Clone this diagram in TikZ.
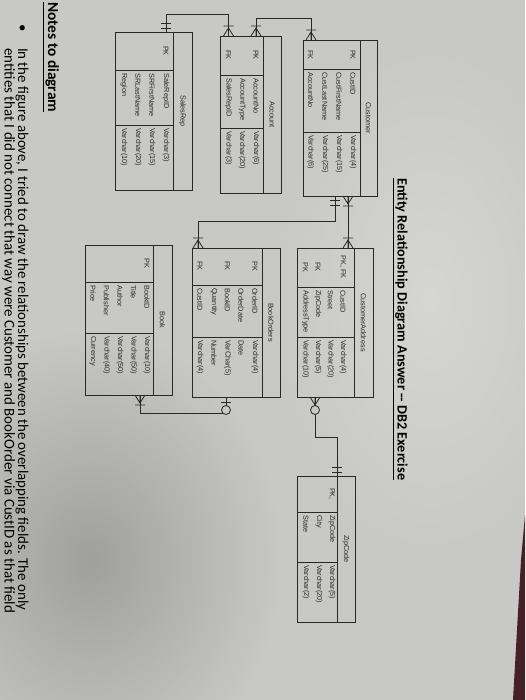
\documentclass[tikz,border=0pt]{standalone}
\usepackage{graphicx}
\usepackage{fontspec}
\setmainfont{Liberation Sans}
\newfontfamily\carlito{Carlito}
\usetikzlibrary{fadings}
\tikzfading[name=softfade, inner color=transparent!0, outer color=transparent!100]
\definecolor{bg}{RGB}{200,200,198}
\definecolor{shadow}{RGB}{110,110,110}
\definecolor{ink}{RGB}{40,40,40}
\definecolor{pageedge}{RGB}{70,32,38}
\tikzset{
  tbl/.style={draw=ink, line width=0.8pt},
  conn/.style={draw=ink, line width=0.8pt},
  celltxt/.style={inner sep=0pt, rotate=-90, anchor=west, text=ink, font=\fontsize{7.3}{8}\selectfont},
  keytxt/.style={inner sep=0pt, rotate=-90, text=ink, font=\fontsize{7.3}{8}\selectfont},
  hdrtxt/.style={inner sep=0pt, rotate=-90, text=ink, font=\fontsize{7.3}{8}\selectfont},
  notetxt/.style={inner sep=0pt, rotate=-90, anchor=base west, text=black},
  crowbar/.pic={\draw[conn] (-5,0)--(0,8)--(5,0) (0,0)--(0,8) (-5,10)--(5,10);},
  twobar/.pic={\draw[conn] (-5,4)--(5,4) (-5,9)--(5,9);},
  crowcirc/.pic={\draw[conn] (-5,0)--(0,8)--(5,0) (0,0)--(0,8); \draw[conn, fill=bg] (0,13) circle (4.5);},
  barcirc/.pic={\draw[conn] (-5,5)--(5,5); \draw[conn, fill=bg] (0,13) circle (4.5);},
}
% name, xl, xr, xh, yt, yb, ys1, ys2, header
\newcommand{\ertable}[9]{%
  \draw[tbl] (#2,#5) rectangle (#3,#6);
  \draw[tbl] (#4,#5) -- (#4,#6);
  \draw[tbl] (#2,#7) -- (#4,#7);
  \draw[tbl] (#2,#8) -- (#4,#8);
  \node[hdrtxt] (#1-h) at ({(#3+#4)/2},{(#5+#6)/2}) {#9};
}
% name, x, ykeycenter, yfield, ytype, key, field, type
\newcommand{\errow}[8]{%
  \node[keytxt] (#1-k) at (#2,#3) {#6};
  \node[celltxt] (#1-f) at (#2,#4) {#7};
  \node[celltxt] (#1-t) at (#2,#5) {#8};
}
\begin{document}
\begin{tikzpicture}[x=1pt,y=-1pt]
\useasboundingbox (0,0) rectangle (525,700);
\clip (0,0) rectangle (525,700);
\fill[bg] (0,0) rectangle (525,700);
\fill[shadow, opacity=0.45, path fading=softfade] (90,560) ellipse (190 and 230);
\fill[white, opacity=0.25, path fading=softfade] (430,300) ellipse (160 and 260);
\fill[pageedge] (525,515) -- (521,560) -- (513,700) -- (525,700) -- cycle;

% title
\node[rotate=-90, anchor=west, inner sep=0pt, text=black] (title) at (400,178)
  {\resizebox{302pt}{!}{\carlito\bfseries\underline{Entity Relationship Diagram Answer -- DB2 Exercise}}};

% notes
\node[notetxt] (notes) at (48,2)
  {\resizebox{110pt}{!}{\carlito\bfseries\underline{Notes to diagram}}};
\node[notetxt] (bullet) at (18,24)
  {\resizebox{586pt}{!}{\carlito\textbullet\hspace{1.1em}In the figure above, I tried to draw the relationships between the overlapping fields. The only}};
\node[notetxt] (bullet2) at (4.5,48)
  {\resizebox{565pt}{!}{\carlito entities that I did not connect that way were Customer and BookOrder via CustID as that field}};

% SalesRep
\ertable{sr}{115}{192}{173}{32}{190}{70}{125}{SalesRep}
\errow{sr1}{166}{51}{73}{128}{PK}{SaleRepID}{Varchar(3)}
\errow{sr2}{152}{51}{73}{128}{}{SRFirstName}{Varchar(15)}
\errow{sr3}{138}{51}{73}{128}{}{SRLastName}{Varchar(20)}
\errow{sr4}{124}{51}{73}{128}{}{Region}{Varchar(10)}

% Account
\ertable{ac}{220}{281}{263}{36}{193}{75}{128}{Account}
\errow{ac1}{256}{55}{78}{131}{PK}{AccountNo}{Varchar(6)}
\errow{ac2}{242}{55}{78}{131}{}{AccountType}{Varchar(20)}
\errow{ac3}{228.5}{55}{78}{131}{FK}{SalesRepID}{Varchar(3)}

% Customer
\ertable{cu}{303}{377}{360}{40}{196}{69}{132}{Customer}
\errow{cu1}{353}{55}{72}{135}{PK}{CustID}{Varchar(4)}
\errow{cu2}{339}{55}{72}{135}{}{CustFirstName}{Varchar(15)}
\errow{cu3}{325}{55}{72}{135}{}{CustLastName}{Varchar(25)}
\errow{cu4}{310.5}{55}{72}{135}{FK}{AccountNo}{Varchar(6)}

% CustomerAddress
\ertable{ca}{297}{373}{354}{248}{397}{287}{337}{CustomerAddress}
\errow{ca1}{343}{267}{290}{340}{PK, FK}{CustID}{Varchar(4)}
\errow{ca2}{330.5}{267}{290}{340}{}{Street}{Varchar(20)}
\errow{ca3}{318}{267}{290}{340}{FK}{ZipCode}{Varchar(5)}
\errow{ca4}{305.5}{267}{290}{340}{PK}{AddressType}{Varchar(10)}

% BookOrders
\ertable{bo}{192}{280}{262}{248}{397}{285}{337}{BookOrders}
\errow{bo1}{255}{266}{288}{340}{PK}{OrderID}{Varchar(4)}
\errow{bo2}{241}{266}{288}{340}{}{OrderDate}{Date}
\errow{bo3}{227.5}{266}{288}{340}{FK}{BookID}{VarChar(5)}
\errow{bo4}{214}{266}{288}{340}{}{Quantity}{Number}
\errow{bo5}{200}{266}{288}{340}{FK}{CustID}{Varchar(4)}

% Book
\ertable{bk}{85}{172}{153}{245}{395}{282}{333}{Book}
\errow{bk1}{147}{263}{285}{336}{PK}{BookID}{Varchar(10)}
\errow{bk2}{133.5}{263}{285}{336}{}{Title}{Varchar(50)}
\errow{bk3}{120}{263}{285}{336}{}{Author}{Varchar(50)}
\errow{bk4}{106.5}{263}{285}{336}{}{Publisher}{Varchar(40)}
\errow{bk5}{93}{263}{285}{336}{}{Price}{Currency}

% ZipCode
\ertable{zc}{297}{355}{337}{476}{622}{512}{562}{ZipCode}
\errow{zc1}{332}{494}{515}{565}{PK,}{ZipCode}{Varchar(5)}
\errow{zc2}{319}{494}{515}{565}{}{City}{Varchar(20)}
\errow{zc3}{306}{494}{515}{565}{}{State}{Varchar(2)}

% connectors
\coordinate (cuA) at (348,196);
\coordinate (caA) at (348,248);
\draw[conn] (cuA) -- (caA);
\pic at (cuA) {crowbar};
\pic[yscale=-1] at (caA) {crowbar};

\coordinate (cuB) at (335,196);
\coordinate (boA) at (198,248);
\draw[conn] (cuB) -- ++(0,25) -| (boA);
\pic at (cuB) {twobar};
\pic[yscale=-1] at (boA) {crowbar};

\coordinate (caB) at (315,397);
\coordinate (zcA) at (337,476);
\draw[conn] (caB) -- ++(0,40) -| (zcA);
\pic at (caB) {crowcirc};
\pic[yscale=-1] at (zcA) {twobar};

\coordinate (bkA) at (140,395);
\coordinate (boB) at (226,397);
\draw[conn] (bkA) -- ++(0,18) -| (boB);
\pic at (bkA) {crowbar};
\pic at (boB) {barcirc};

\coordinate (srA) at (166,32);
\coordinate (acB) at (228.5,36);
\draw[conn] (srA) -- ++(0,-18) -| (acB);
\pic[yscale=-1] at (srA) {twobar};
\pic[yscale=-1] at (acB) {crowbar};

\coordinate (acA) at (256,36);
\coordinate (cuC) at (311,40);
\draw[conn] (acA) -- ++(0,-18) -| (cuC);
\pic[yscale=-1] at (acA) {crowbar};
\pic[yscale=-1] at (cuC) {crowbar};
\end{tikzpicture}
\end{document}
